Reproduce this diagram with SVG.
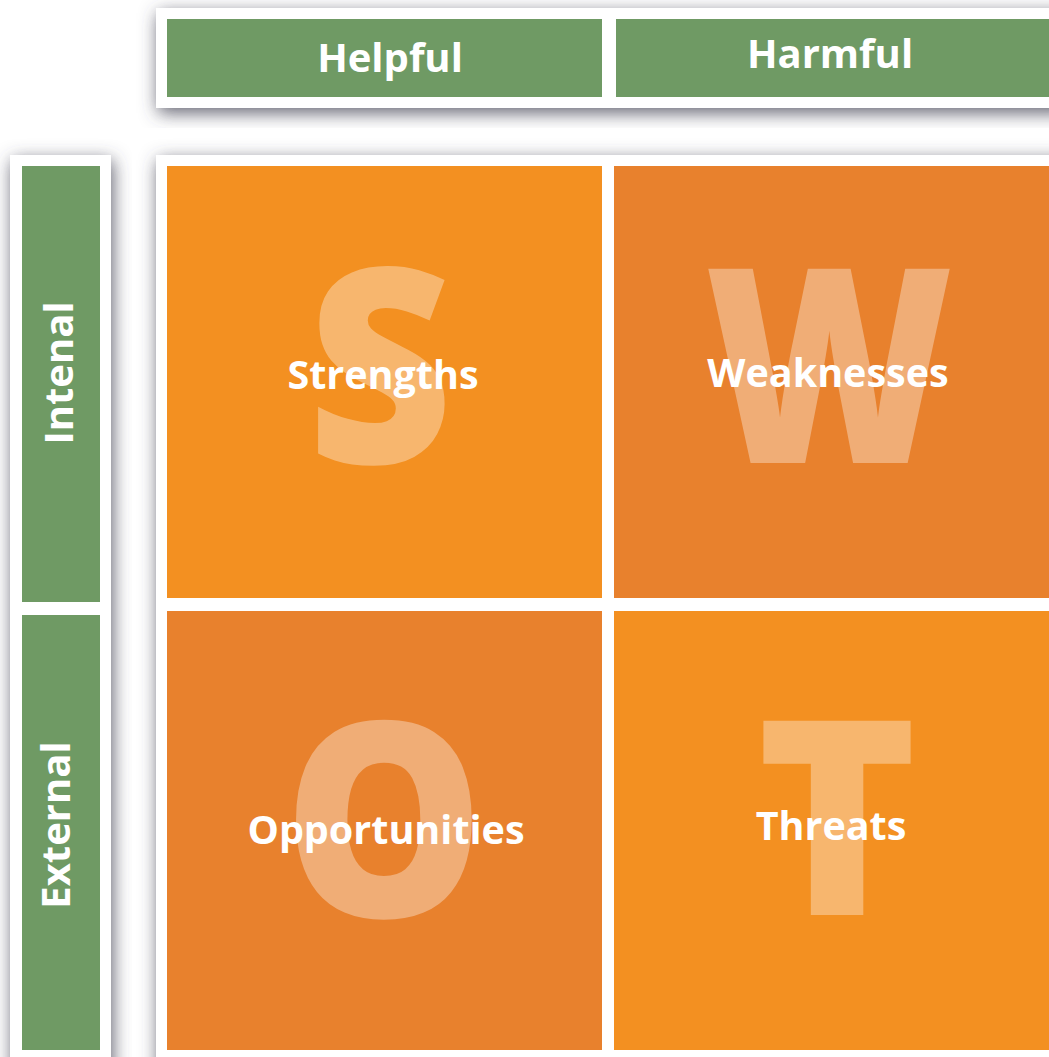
<svg xmlns="http://www.w3.org/2000/svg" width="1049" height="1057" viewBox="0 0 1049 1057">
<defs>
<filter id="sh" x="-20%" y="-20%" width="140%" height="140%">
<feDropShadow dx="2" dy="5" stdDeviation="9" flood-color="#4a4a58" flood-opacity="0.85"/>
</filter>
<style>
.frame{fill:#ffffff;filter:url(#sh)}
.green{fill:#6f9a64}
.o1{fill:#f39021}
.o2{fill:#e8812d}
.hdr{font-family:"Open Sans","Liberation Sans",sans-serif;font-weight:bold;font-size:40px;fill:#ffffff;text-anchor:middle}
.big{font-family:"Open Sans","Liberation Sans",sans-serif;font-weight:800;font-size:272px;fill:#ffffff;fill-opacity:0.35;text-anchor:middle}
.lbl{font-family:"Open Sans","Liberation Sans",sans-serif;font-weight:bold;font-size:39.5px;fill:#ffffff;text-anchor:middle}
</style>
</defs>
<rect width="1049" height="1057" fill="#ffffff"/>
<g id="frames">
<rect class="frame" x="156" y="8" width="910" height="100"/>
<rect class="frame" x="10" y="155" width="101" height="920"/>
<rect class="frame" x="156" y="155" width="910" height="920"/>
</g>
<g id="header-helpful">
<rect class="green" x="167" y="19" width="435" height="78"/>
<text class="hdr" x="390" y="72">Helpful</text>
</g>
<g id="header-harmful">
<rect class="green" x="616" y="19" width="433" height="78"/>
<text class="hdr" x="830" y="68">Harmful</text>
</g>
<g id="side-internal">
<rect class="green" x="22" y="166" width="78" height="436"/>
<text class="hdr" transform="translate(73,373) rotate(-90)">Intenal</text>
</g>
<g id="side-external">
<rect class="green" x="22" y="615" width="78" height="435"/>
<text class="hdr" transform="translate(70,825) rotate(-90)">External</text>
</g>
<g id="strengths">
<rect class="o1" x="167" y="166" width="435" height="432"/>
<text class="big" transform="translate(380,463) scale(0.93,1)">S</text>
<text class="lbl" x="383" y="389">Strengths</text>
</g>
<g id="weaknesses">
<rect class="o2" x="614" y="166" width="435" height="432"/>
<text class="big" transform="translate(829,463) scale(0.88,1)">W</text>
<text class="lbl" x="828" y="387">Weaknesses</text>
</g>
<g id="opportunities">
<rect class="o2" x="167" y="611" width="435" height="439"/>
<text class="big" transform="translate(384,917) scale(0.93,1)">O</text>
<text class="lbl" x="386" y="844">Opportunities</text>
</g>
<g id="threats">
<rect class="o1" x="614" y="611" width="435" height="439"/>
<text class="big" x="837" y="915">T</text>
<text class="lbl" x="831" y="840">Threats</text>
</g>
<g id="connectors"></g>
</svg>
